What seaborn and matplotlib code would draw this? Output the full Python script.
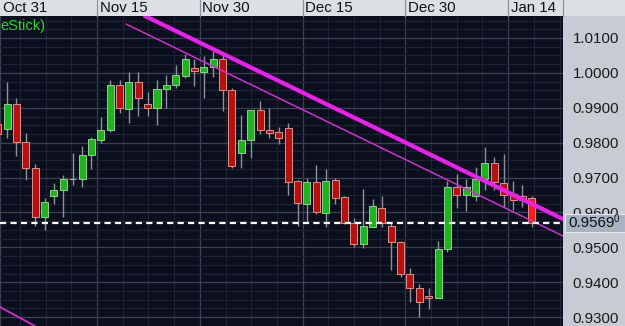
import matplotlib
matplotlib.use("Agg")
import matplotlib.pyplot as plt
import seaborn as sns
import numpy as np
import pandas as pd
from matplotlib.ticker import FixedLocator, MultipleLocator
from matplotlib.patches import Rectangle

# ---------------- data ----------------
opens = [0.9854, 0.9839, 0.9911, 0.9802, 0.9728, 0.9587, 0.9647, 0.9665, 0.9695, 0.9696,
         0.9765, 0.9808, 0.9836, 0.9965, 0.9897, 0.9974, 0.9911, 0.9899, 0.9954, 0.9965,
         0.9991, 1.0014, 1.0003, 1.0017, 1.0040, 0.9951, 0.9771, 0.9808, 0.9894, 0.9836,
         0.9831, 0.9842, 0.9690, 0.9624, 0.9687, 0.9599, 0.9693, 0.9645, 0.9570, 0.9510,
         0.9559, 0.9613, 0.9561, 0.9516, 0.9424, 0.9384, 0.9361, 0.9355, 0.9496, 0.9673,
         0.9650, 0.9647, 0.9696, 0.9742, 0.9685, 0.9653, 0.9647, 0.9642]
highs = [0.9865, 0.9974, 0.9928, 0.9828, 0.9739, 0.9642, 0.9685, 0.9708, 0.9771, 0.9791,
         0.9816, 0.9874, 0.9980, 0.9980, 1.0003, 1.0003, 0.9945, 0.9980, 0.9994, 1.0023,
         1.0054, 1.0040, 1.0048, 1.0063, 1.0051, 0.9957, 0.9879, 0.9894, 0.9920, 0.9899,
         0.9845, 0.9857, 0.9693, 0.9699, 0.9736, 0.9725, 0.9699, 0.9647, 0.9584, 0.9667,
         0.9639, 0.9647, 0.9570, 0.9518, 0.9441, 0.9395, 0.9384, 0.9518, 0.9690, 0.9710,
         0.9696, 0.9730, 0.9788, 0.9759, 0.9768, 0.9690, 0.9679, 0.9647]
lows = [0.9814, 0.9814, 0.9762, 0.9693, 0.9561, 0.9550, 0.9624, 0.9587, 0.9679, 0.9673,
        0.9725, 0.9799, 0.9831, 0.9885, 0.9857, 0.9877, 0.9877, 0.9851, 0.9899, 0.9957,
        0.9985, 0.9963, 0.9928, 0.9988, 0.9891, 0.9728, 0.9728, 0.9756, 0.9825, 0.9814,
        0.9796, 0.9650, 0.9561, 0.9576, 0.9596, 0.9559, 0.9624, 0.9567, 0.9501, 0.9498,
        0.9559, 0.9559, 0.9435, 0.9415, 0.9344, 0.9301, 0.9324, 0.9355, 0.9487, 0.9613,
        0.9604, 0.9633, 0.9665, 0.9665, 0.9616, 0.9607, 0.9616, 0.9559]
closes = [0.9825, 0.9911, 0.9802, 0.9728, 0.9587, 0.9630, 0.9665, 0.9696, 0.9695, 0.9765,
          0.9811, 0.9836, 0.9965, 0.9899, 0.9974, 0.9928, 0.9899, 0.9954, 0.9965, 0.9994,
          1.0040, 1.0006, 1.0017, 1.0040, 0.9951, 0.9733, 0.9808, 0.9894, 0.9836, 0.9828,
          0.9814, 0.9687, 0.9627, 0.9687, 0.9602, 0.9690, 0.9642, 0.9570, 0.9510, 0.9561,
          0.9619, 0.9570, 0.9516, 0.9424, 0.9384, 0.9344, 0.9355, 0.9496, 0.9673, 0.9650,
          0.9673, 0.9696, 0.9742, 0.9687, 0.9650, 0.9636, 0.9636, 0.9569]

date_labels = ["Oct 31", "Nov 15", "Nov 30", "Dec 15", "Dec 30", "Jan 14"]
date_pos = [0.25, 10.60, 21.57, 32.54, 43.51, 54.48]
y_ticks = [0.9300, 0.9400, 0.9500, 0.9600, 0.9700, 0.9800, 0.9900, 1.0000, 1.0100]
last_price = 0.9569
legend_text = "eStick)"

trend_thick_x = [15.72, 60.33]
trend_thick_y = [1.0163, 0.95814]
trend_thin_x = [13.69, 60.33]
trend_thin_y = [1.01401, 0.95327]
trend_low_x = [0.245, 3.98]
trend_low_y = [0.93292, 0.92748]

# ---------------- style ----------------
sns.set_theme(style="dark")
plt.rcParams["font.family"] = ["Liberation Sans", "DejaVu Sans"]

BG = "#0b0f1d"
W, H = 625, 326
fig = plt.figure(figsize=(W / 100, H / 100), dpi=100)
fig.patch.set_facecolor("#c7ccd4")

# top bar background (drawn beneath the axes)
fig.patches.append(Rectangle((0, 310 / H), 1, 16 / H, transform=fig.transFigure,
                             facecolor="#dcdfe4", edgecolor="none", zorder=-5))

ax = fig.add_axes([0, 0, 563 / W, 310 / H])
ax.set_facecolor(BG)

df = pd.DataFrame({"o": opens, "h": highs, "l": lows, "c": closes})
df["i"] = np.arange(len(df))

x0, x1 = 0.2455, 60.33
ax.set_xlim(x0, x1)
ax.set_ylim(0.92748, 1.0163)

# grid
minor_x = []
start = date_pos[1] - 10.97
for k in range(-1, 30):
    minor_x.append(start + k * 10.97 / 4)
ax.xaxis.set_major_locator(FixedLocator(date_pos))
ax.xaxis.set_minor_locator(FixedLocator(minor_x))
ax.yaxis.set_major_locator(FixedLocator(y_ticks))
ax.yaxis.set_minor_locator(MultipleLocator(0.0025))
ax.grid(which="major", color="#3a4152", lw=0.9)
ax.grid(which="minor", color="#1d2434", lw=0.8)
ax.set_axisbelow(True)
ax.tick_params(axis="x", which="both", length=0, labelbottom=False)
ax.yaxis.tick_right()
ax.tick_params(axis="y", which="both", length=0, pad=7, labelsize=10.8, labelcolor="#1a1a1a")
ax.set_yticklabels([f"{v:.4f}" for v in y_ticks])
for s in ax.spines.values():
    s.set_visible(False)

# trend lines
sns.lineplot(x=trend_low_x, y=trend_low_y, ax=ax, color="#d22ed2", lw=1.3)
sns.lineplot(x=trend_thin_x, y=trend_thin_y, ax=ax, color="#d22ed2", lw=1.1, zorder=4)
sns.lineplot(x=trend_thick_x, y=trend_thick_y, ax=ax, color="#ee1fee", lw=3.0, zorder=4)

# candles
up = df[df.c > df.o]
dn = df[df.c < df.o]
dj = df[df.c == df.o]
ax.vlines(df.i, df.l, df.h, color="#8c919b", lw=1.0, zorder=2)
bw = 0.75
ax.bar(up.i, (up.c - up.o).clip(lower=0.0002), bottom=up.o, width=bw,
       color="#1fb31f", edgecolor="#8fd08f", lw=0.7, zorder=3)
red_cols = ["#ff1a1a" if i == len(df) - 1 else "#b5120f" for i in dn.i]
ax.bar(dn.i, (dn.o - dn.c).clip(lower=0.0002), bottom=dn.c, width=bw,
       color=red_cols, edgecolor="#e0908a", lw=0.7, zorder=3)
ax.bar(dj.i, 0.0002, bottom=dj.o, width=bw, color="#c9c9c9", edgecolor="#c9c9c9",
       lw=0.6, zorder=3)

# last price dashed line
ax.axhline(last_price, color="white", lw=1.6, dashes=(2.8, 1.9), zorder=5)

# legend text
ax.text(0.0, 1.0 - 10 / 310, legend_text, transform=ax.transAxes, ha="left", va="center",
        color="#24d624", fontsize=10.5, zorder=6)

# top bar labels and separators
for p, lab in zip(date_pos, date_labels):
    ax.text(p + 0.27, 1 + 8.5 / 310, lab, transform=ax.get_xaxis_transform(),
            ha="left", va="center", fontsize=10.8, color="#111111", clip_on=False)
    if p > x0 + 0.5:
        ax.plot([p, p], [1.0, 1 + 16 / 310], transform=ax.get_xaxis_transform(),
                color="#8d939c", lw=0.9, clip_on=False)
ax.plot([x1, x1], [1.0, 1 + 16 / 310], transform=ax.get_xaxis_transform(),
        color="#8d939c", lw=0.9, clip_on=False)

# price box
py = ax.transData.transform((0, last_price))[1]
fy = py / H
fig.patches.append(Rectangle((565 / W, fy - 9 / H), 60 / W, 18 / H, transform=fig.transFigure,
                             facecolor="#a7b2c3", edgecolor="#e3e7ee", lw=0.8, zorder=5))
fig.text(568 / W, fy, f"{last_price:.4f}", ha="left", va="center", fontsize=10.8,
         color="#111111", zorder=6)
fig.text(614 / W, fy + 4 / H, "0", ha="left", va="center", fontsize=7,
         color="#111111", zorder=6)

fig.savefig("out.png", dpi=100, facecolor=fig.get_facecolor())
